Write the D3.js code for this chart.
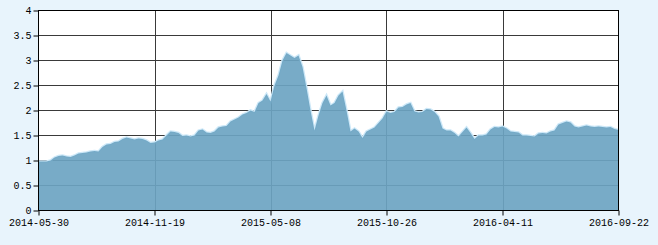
<!DOCTYPE html>
<html>
<head>
<meta charset="utf-8">
<script src="https://cdn.jsdelivr.net/npm/d3@7"></script>
<style>
  html, body { margin: 0; padding: 0; background: #e8f4fc; }
  svg { display: block; }
  .tick text { font-family: "Liberation Mono", "DejaVu Sans Mono", monospace; font-size: 10px; fill: #000; }
</style>
</head>
<body>
<div id="chart"></div>
<script>
// valeurs (un point tous les 4 px environ)
var values = [
  0.98, 0.98, 0.98, 1.00, 1.06, 1.09, 1.10, 1.08, 1.07, 1.10,
  1.14, 1.15, 1.16, 1.18, 1.19, 1.18, 1.27, 1.32, 1.33, 1.37,
  1.38, 1.43, 1.46, 1.44, 1.42, 1.44, 1.43, 1.40, 1.35, 1.36,
  1.40, 1.42, 1.50, 1.58, 1.57, 1.55, 1.49, 1.50, 1.48, 1.50,
  1.60, 1.62, 1.56, 1.55, 1.58, 1.66, 1.68, 1.69, 1.78, 1.82,
  1.86, 1.92, 1.95, 2.00, 1.97, 2.15, 2.20, 2.33, 2.18, 2.50,
  2.70, 3.00, 3.15, 3.10, 3.05, 3.10, 2.87, 2.45, 2.00, 1.60,
  1.90, 2.15, 2.30, 2.10, 2.15, 2.30, 2.38, 2.00, 1.58, 1.64,
  1.58, 1.45, 1.58, 1.62, 1.66, 1.75, 1.84, 1.98, 1.95, 1.97,
  2.06, 2.07, 2.12, 2.15, 1.98, 1.96, 1.97, 2.03, 2.02, 1.97,
  1.88, 1.64, 1.60, 1.60, 1.55, 1.48, 1.57, 1.66, 1.55, 1.43,
  1.50, 1.50, 1.52, 1.62, 1.67, 1.66, 1.68, 1.64, 1.58, 1.57,
  1.56, 1.50, 1.50, 1.49, 1.48, 1.54, 1.55, 1.54, 1.58, 1.60,
  1.72, 1.75, 1.78, 1.76, 1.68, 1.66, 1.68, 1.70, 1.68, 1.67,
  1.68, 1.67, 1.66, 1.67, 1.63, 1.61
];
var dateLabels = ["2014-05-30", "2014-11-19", "2015-05-08", "2015-10-26", "2016-04-11", "2016-09-22"];
var yTicks = [0, 0.5, 1, 1.5, 2, 2.5, 3, 3.5, 4];

(function(){
var width = 658, height = 245;
var pLeft = 38.5, pRight = 618.5, pTop = 10.5, pBottom = 210.5;

var svg = d3.select('#chart').append('svg').attr('width', width).attr('height', height);

var x = d3.scaleLinear().domain([0, values.length - 1]).range([pLeft, pRight]);
var y = d3.scaleLinear().domain([0, 4]).range([pBottom, pTop]);

var n = values.length - 1;
var xTickIdx = dateLabels.map(function(d, i){ return i * n / (dateLabels.length - 1); });

// fond blanc de la zone de tracé
svg.append('rect')
  .attr('x', pLeft).attr('y', pTop)
  .attr('width', pRight - pLeft).attr('height', pBottom - pTop)
  .attr('fill', '#fff');

// grille
var grid = svg.append('g').attr('stroke', '#3a3a3a').attr('stroke-width', 1);
grid.selectAll('.hg').data(yTicks.slice(1)).enter().append('line')
  .attr('x1', pLeft).attr('x2', pRight)
  .attr('y1', function(d){ return y(d); }).attr('y2', function(d){ return y(d); });
grid.selectAll('.vg').data(xTickIdx.slice(1, -1)).enter().append('line')
  .attr('y1', pTop).attr('y2', pBottom)
  .attr('x1', function(d){ return Math.round(x(d)) + 0.5; }).attr('x2', function(d){ return Math.round(x(d)) + 0.5; });

// halo clair le long de la courbe
var line = d3.line().x(function(d, i){ return x(i); }).y(function(d){ return y(d); });
svg.append('path').datum(values)
  .attr('d', line)
  .attr('fill', 'none')
  .attr('stroke', '#cde8f8')
  .attr('stroke-width', 2.5);

// aire
var area = d3.area().x(function(d, i){ return x(i); }).y0(pBottom).y1(function(d){ return y(d); });
svg.append('path').datum(values)
  .attr('d', area)
  .attr('fill', 'rgb(108,164,194)')
  .attr('fill-opacity', 0.92);

// bordure
svg.append('rect')
  .attr('x', pLeft).attr('y', pTop)
  .attr('width', pRight - pLeft).attr('height', pBottom - pTop)
  .attr('fill', 'none').attr('stroke', '#000');

// axes
var yAxis = d3.axisLeft(y).tickValues(yTicks).tickSize(5).tickPadding(2)
  .tickFormat(function(d){ return d3.format('')(d); });
svg.append('g').attr('transform', 'translate(' + pLeft + ',0)').call(yAxis)
  .call(function(g){ g.select('.domain').remove(); });

var xAxis = d3.axisBottom(x).tickValues(xTickIdx).tickSize(5).tickPadding(3)
  .tickFormat(function(d, i){ return dateLabels[i]; });
svg.append('g').attr('transform', 'translate(0,' + pBottom + ')').call(xAxis)
  .call(function(g){ g.select('.domain').remove(); });

svg.selectAll('.tick line').attr('stroke', '#000');
})();
</script>
</body>
</html>
